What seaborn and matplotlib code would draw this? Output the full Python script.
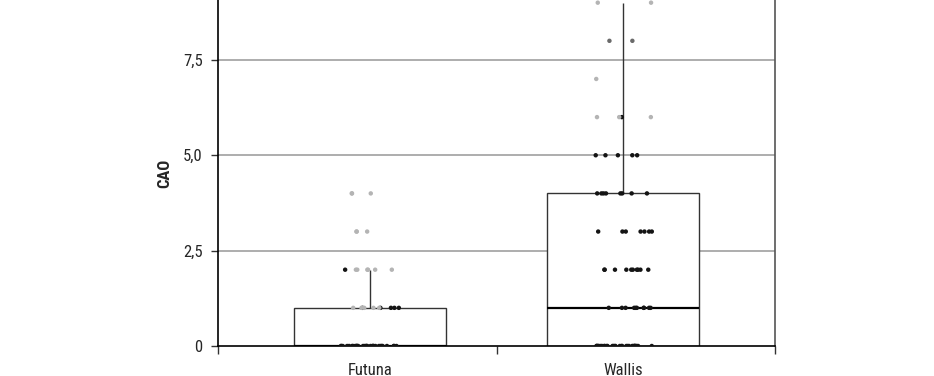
import numpy as np
import pandas as pd
import seaborn as sns
import matplotlib.pyplot as plt
from matplotlib.ticker import FuncFormatter

# CAO value levels and how many patients sit at each level, split by dot shade
islands = ['Futuna', 'Wallis']
cao_levels = [0, 1, 2, 3, 4, 5, 6, 7, 8, 9]
futuna_dark = [30, 5, 1, 0, 0, 0, 0, 0, 0, 0]
futuna_mid = [0, 0, 0, 0, 0, 0, 0, 0, 0, 0]
futuna_light = [0, 5, 6, 3, 3, 0, 0, 0, 0, 0]
wallis_dark = [30, 10, 10, 7, 8, 5, 1, 0, 0, 0]
wallis_mid = [0, 0, 0, 0, 0, 0, 0, 0, 2, 0]
wallis_light = [0, 0, 0, 0, 0, 0, 3, 1, 0, 2]
y_ticks = [0, 2.5, 5.0, 7.5]


def build(island, counts_by_shade):
    rows = []
    for shade, counts in counts_by_shade.items():
        for v, n in zip(cao_levels, counts):
            rows += [(island, v, shade)] * n
    return rows


rows = build('Futuna', {'dark': futuna_dark, 'mid': futuna_mid, 'light': futuna_light})
rows += build('Wallis', {'dark': wallis_dark, 'mid': wallis_mid, 'light': wallis_light})
df = pd.DataFrame(rows, columns=['island', 'CAO', 'shade'])

sns.set_style('white')
plt.rcParams['font.family'] = ['Liberation Sans Narrow', 'Roboto Condensed', 'DejaVu Sans']

fig = plt.figure(figsize=(9.34, 3.76), dpi=100)
ax = fig.add_axes([0.2334, 0.0798, 0.5964, 0.9202])

for v in y_ticks[1:]:
    ax.axhline(v, color='#a0a0a0', linewidth=1.2, zorder=0)

sns.boxplot(data=df, x='island', y='CAO', order=islands, width=0.6,
            color='white', linecolor='#333333', linewidth=1,
            showfliers=False, showcaps=False, whis=1.5,
            medianprops={'color': 'black', 'linewidth': 1.6},
            ax=ax, zorder=2)

np.random.seed(3)
sns.stripplot(data=df, x='island', y='CAO', order=islands, hue='shade',
              hue_order=['light', 'mid', 'dark'],
              palette={'light': '#b4b4b4', 'mid': '#6a6a6a', 'dark': '#141414'},
              jitter=0.12, size=3.2, linewidth=0, legend=False, ax=ax, zorder=3)

ax.set_xlim(-0.6, 1.6)
ax.set_ylim(0, 9.07)
ax.set_yticks(y_ticks)
ax.yaxis.set_major_formatter(FuncFormatter(
    lambda v, p: '0' if v == 0 else f'{v:.1f}'.replace('.', ',')))
ax.set_xticks([0, 1])
ax.set_xticklabels(islands)
ax.set_xticks([-0.6, 0.5, 1.6], minor=True)
ax.tick_params(axis='x', which='major', length=0, labelsize=12, pad=12)
ax.tick_params(axis='x', which='minor', length=6, width=1, color='#333333', direction='out', bottom=True)
ax.tick_params(axis='y', length=5, width=1, color='#333333', direction='out', left=True,
               labelsize=12, pad=6)

ax.set_xlabel('')
ax.set_ylabel('CAO', fontweight='bold', fontsize=12, labelpad=8)

for side in ['left', 'bottom']:
    ax.spines[side].set_color('black')
    ax.spines[side].set_linewidth(1.2)
ax.spines['right'].set_color('#555555')
ax.spines['right'].set_linewidth(1.2)
ax.spines['top'].set_visible(False)

fig.savefig('out.png', dpi=100)
